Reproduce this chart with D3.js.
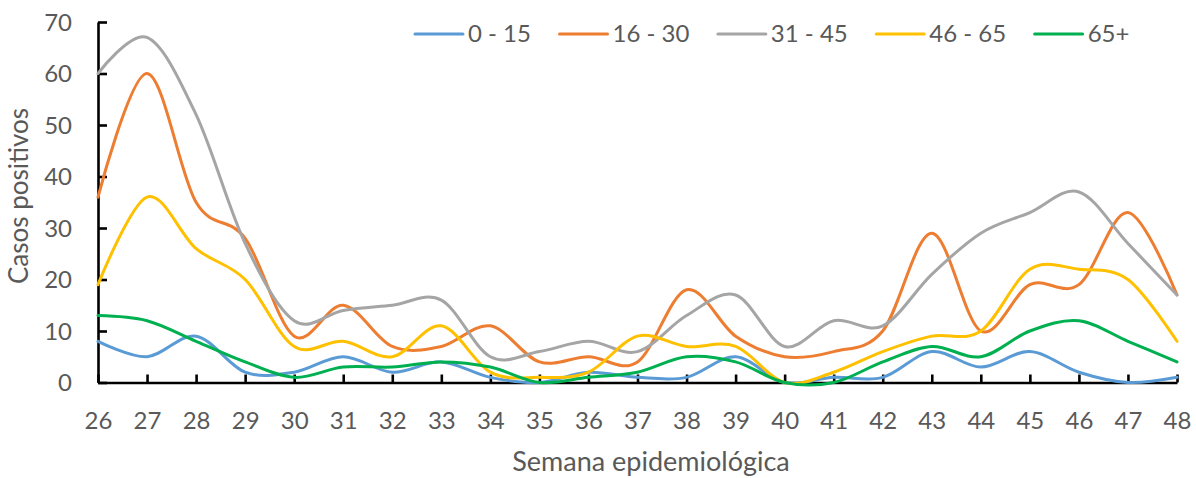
<!DOCTYPE html>
<html>
<head>
<meta charset="utf-8">
<script src="https://cdn.jsdelivr.net/npm/d3@7"></script>
<style>
  html, body { margin: 0; padding: 0; background: #ffffff; }
  svg { display: block; }
  text { font-family: Lato, "Open Sans", sans-serif; fill: #595959; }
</style>
</head>
<body>
<svg id="chart" width="1196" height="478"></svg>
<script>
// Semanas epidemiológicas 26–48
const weeks = d3.range(26, 49);

// Casos positivos por grupo de edad
const seriesNames = ["0 - 15", "16 - 30", "31 - 45", "46 - 65", "65+"];
const seriesColors = ["#5B9BD5", "#ED7D31", "#A5A5A5", "#FFC000", "#00B050"];

const age0to15  = [8, 5, 9, 2, 2, 5, 2, 4, 1, 0, 2, 1, 1, 5, 0, 1, 1, 6, 3, 6, 2, 0, 1];
const age16to30 = [36, 60, 35, 28, 9, 15, 7, 7, 11, 4, 5, 4, 18, 9, 5, 6, 10, 29, 10, 19, 19, 33, 17];
const age31to45 = [60, 67, 52, 27, 12, 14, 15, 16, 5, 6, 8, 6, 13, 17, 7, 12, 11, 21, 29, 33, 37, 27, 17];
const age46to65 = [19, 36, 26, 20, 7, 8, 5, 11, 2, 1, 2, 9, 7, 7, 0, 2, 6, 9, 10, 22, 22, 20, 8];
const age65plus = [13, 12, 8, 4, 1, 3, 3, 4, 3, 0, 1, 2, 5, 4, 0, 0, 4, 7, 5, 10, 12, 8, 4];

const seriesValues = [age0to15, age16to30, age31to45, age46to65, age65plus];

const yTicks = [0, 10, 20, 30, 40, 50, 60, 70];

const svg = d3.select("#chart");

const x = d3.scaleLinear().domain([26, 48]).range([98, 1177]);
const y = d3.scaleLinear().domain([0, 70]).range([382.5, 22]);

// Axes: Excel-style inside tick marks
const xAxis = d3.axisBottom(x).tickValues(weeks).tickSizeInner(-8).tickSizeOuter(0).tickFormat(d3.format("d"));
const yAxis = d3.axisLeft(y).tickValues(yTicks).tickSizeInner(-9).tickSizeOuter(0);

const gx = svg.append("g").attr("transform", `translate(0,${y(0)})`).call(xAxis);
const gy = svg.append("g").attr("transform", `translate(${x(26)},0)`).call(yAxis);

[gx, gy].forEach(g => {
  g.select(".domain").attr("stroke", "#000").attr("stroke-width", 2.6);
  g.selectAll(".tick line").attr("stroke", "#000").attr("stroke-width", 2.6);
  g.selectAll(".tick text").style("font-family", "Lato, 'Open Sans', sans-serif")
    .style("font-size", "24px").attr("fill", "#595959");
});
gx.selectAll(".tick text").attr("y", 0).attr("dy", "0").attr("transform", "translate(0,46)");
gy.selectAll(".tick text").attr("x", -26).attr("dy", "0.35em");

// Smoothed series lines
const line = d3.line()
  .x((d, i) => x(weeks[i]))
  .y(d => y(d))
  .curve(d3.curveCardinal.tension(0));

svg.append("g").selectAll("path")
  .data(seriesValues)
  .join("path")
  .attr("d", d => line(d))
  .attr("fill", "none")
  .attr("stroke", (d, i) => seriesColors[i])
  .attr("stroke-width", 3)
  .attr("stroke-linecap", "round")
  .attr("stroke-linejoin", "round");

// Axis titles
svg.append("text")
  .attr("x", 651).attr("y", 471)
  .attr("text-anchor", "middle")
  .style("font-size", "27px")
  .text("Semana epidemiológica");

svg.append("text")
  .attr("transform", "translate(28,196) rotate(-90)")
  .attr("text-anchor", "middle")
  .style("font-size", "26px")
  .text("Casos positivos");

// Legend along the top
const legend = svg.append("g").attr("transform", "translate(415,34)");
let cursor = 0;
seriesNames.forEach((name, i) => {
  const item = legend.append("g").attr("transform", `translate(${cursor},0)`);
  item.append("line")
    .attr("x1", 0).attr("x2", 48).attr("y1", 0).attr("y2", 0)
    .attr("stroke", seriesColors[i]).attr("stroke-width", 3)
    .attr("stroke-linecap", "round");
  const t = item.append("text")
    .attr("x", 53).attr("dy", "0.35em")
    .style("font-size", "24px")
    .text(name);
  cursor += 53 + t.node().getComputedTextLength() + 28.5;
});
</script>
</body>
</html>
